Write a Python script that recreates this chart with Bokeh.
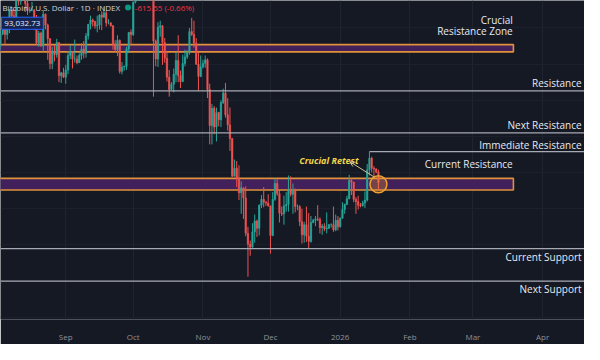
import pandas as pd
from bokeh.plotting import figure
from bokeh.models import (ColumnDataSource, FixedTicker, Range1d, Span, Arrow,
                          OpenHead, Grid, SingleIntervalTicker)
from bokeh.core.properties import value
from bokeh.embed import file_html
from bokeh.resources import INLINE

# ---------------- data (BTC/USD daily, thousands of USD) ----------------
first_day = "2025-08-03"

opens = [112.5,114.2,115.0,114.1,115.0,117.5,116.7,116.5,119.3,118.7,120.2,123.3,118.4,117.4,117.5,117.5,116.3,112.9,114.3,112.5,116.9,115.4,113.5,110.1,111.8,111.3,113.0,108.4,108.8,
         108.2,109.2,111.2,111.7,110.7,110.7,110.2,111.2,112.1,111.5,113.9,115.5,116.1,115.9,115.3,115.4,116.8,116.5,117.1,115.7,115.7,115.3,112.7,112.0,113.3,109.0,109.6,109.7,112.1,114.4,
         114.1,118.6,120.6,122.3,122.4,123.5,124.7,121.4,123.3,121.7,113.2,110.7,115.1,115.3,113.0,110.8,108.2,106.5,107.2,108.6,110.5,108.4,107.6,110.1,111.0,111.6,114.5,114.1,112.9,110.0,108.3,
         109.6,110.1,110.6,106.5,101.5,103.9,101.3,103.3,102.3,104.7,106.0,103.0,101.6,99.7,94.5,95.6,94.2,92.2,92.9,91.5,86.6,85.1,84.7,86.8,88.3,87.3,90.5,91.3,90.9,90.8,
         90.4,86.3,91.3,93.5,92.1,89.4,89.3,90.4,90.6,92.7,92.0,92.5,90.3,90.3,88.2,86.4,87.8,86.2,85.5,88.1,88.4,88.6,88.5,87.4,87.6,87.2,87.3,87.8,87.8,87.1,88.4,
         87.5,88.7,89.9,90.6,91.4,93.9,93.7,91.3,91.0,90.5,90.4,90.8,91.2,95.4,97.0,95.6,95.5,95.1]

highs = [114.7,115.7,115.1,115.7,117.6,117.9,117.6,119.3,122.3,120.3,123.7,124.4,119.2,117.9,118.6,117.6,116.8,114.6,114.5,117.4,117.0,115.6,113.6,112.4,112.6,113.5,113.0,108.9,109.5,
         109.9,111.8,112.6,111.8,113.4,111.2,111.5,112.9,113.2,114.3,115.5,116.7,116.3,116.0,116.7,116.9,117.3,117.9,117.4,116.2,115.8,115.4,113.3,114.0,113.4,110.3,109.8,112.4,114.4,114.8,
         118.6,121.0,123.9,122.9,125.7,126.2,125.1,124.1,123.8,122.5,113.4,115.8,116.0,115.4,113.6,111.8,109.2,107.5,109.4,111.7,114.0,109.1,111.3,112.0,111.9,115.0,116.4,116.0,113.6,111.6,111.2,
         110.6,111.2,110.8,107.3,104.5,104.2,104.0,103.4,105.0,106.6,107.4,105.3,104.0,99.8,96.8,96.6,96.0,93.8,92.9,93.1,87.5,85.6,88.0,89.2,88.5,90.6,91.9,93.0,91.1,92.0,
         90.4,92.3,94.2,94.1,92.7,90.3,91.8,92.3,94.6,94.5,93.5,92.8,90.6,90.5,90.0,88.2,90.3,89.4,89.0,88.6,89.0,90.5,88.8,87.9,88.0,89.5,87.9,88.0,90.3,89.2,89.0,
         88.8,90.9,90.7,91.8,94.7,94.2,93.7,91.6,91.8,90.8,91.1,92.4,96.2,97.9,97.2,95.9,95.6,95.4]

lows = [112.0,114.0,112.7,113.4,114.3,115.9,116.3,116.5,118.1,118.2,118.9,117.2,116.8,117.1,117.3,114.7,112.7,112.4,112.4,111.7,114.8,110.6,109.3,109.3,110.4,110.9,107.5,107.4,108.1,
        107.3,108.6,110.7,109.4,110.2,110.0,110.2,110.6,110.8,110.9,113.4,114.8,115.2,114.9,114.4,114.8,114.7,116.4,115.2,115.5,115.2,112.0,111.6,111.1,108.7,108.6,109.1,109.2,111.6,112.7,
        113.9,118.4,119.3,121.6,122.1,123.1,120.6,121.1,119.8,105.5,109.7,109.6,113.8,109.9,110.2,107.6,105.5,106.4,106.1,107.5,107.5,106.7,107.5,109.7,110.7,111.3,113.9,112.3,109.9,106.3,108.2,
        109.4,109.5,105.3,98.9,98.9,100.3,99.3,101.4,101.3,104.5,102.6,100.8,98.0,94.4,94.5,93.0,91.2,89.3,88.6,86.2,80.6,83.5,84.6,85.3,86.1,86.3,90.1,90.2,90.4,90.3,
        83.8,86.2,91.1,91.8,88.1,89.0,87.8,89.6,89.6,91.7,89.3,89.5,89.8,87.6,85.2,85.3,85.4,84.5,85.3,88.0,87.6,88.3,86.6,86.4,86.9,86.6,87.2,87.4,86.8,86.9,87.0,
        87.4,88.6,89.3,90.5,91.3,91.9,90.9,89.3,89.9,90.2,90.3,90.1,91.0,94.6,95.0,94.3,94.9,92.5]

closes = [114.2,115.0,114.1,115.0,117.5,116.7,116.5,119.3,118.7,120.2,123.3,118.4,117.4,117.5,117.5,116.3,112.9,114.3,112.5,116.9,115.4,113.5,110.1,111.8,111.3,113.0,108.4,108.8,108.2,
          109.2,111.2,111.7,110.7,110.7,110.2,111.2,112.1,111.5,113.9,115.5,116.1,115.9,115.3,115.4,116.8,116.5,117.1,115.7,115.7,115.3,112.7,112.0,113.3,109.0,109.6,109.7,112.1,114.4,114.1,
          118.6,120.6,122.3,122.4,123.5,124.7,121.4,123.3,121.7,113.2,110.7,115.1,115.3,113.0,110.8,108.2,106.5,107.2,108.6,110.5,108.4,107.6,110.1,111.0,111.6,114.5,114.1,112.9,110.0,108.3,109.6,
          110.1,110.6,106.5,101.5,103.9,101.3,103.3,102.3,104.7,106.0,103.0,101.6,99.7,94.5,95.6,94.2,92.2,92.9,91.5,86.6,85.1,84.7,86.8,88.3,87.3,90.5,91.3,90.9,90.8,90.4,
          86.3,91.3,93.5,92.1,89.4,89.3,90.4,90.6,92.7,92.0,92.5,90.3,90.3,88.2,86.4,87.8,86.2,85.5,88.1,88.4,88.6,88.5,87.4,87.6,87.2,87.3,87.8,87.8,87.1,88.4,87.5,
          88.7,89.9,90.6,91.4,93.9,93.7,91.3,91.0,90.5,90.4,90.8,91.2,95.4,97.0,95.6,95.5,95.1,93.6]

# key levels (thousands of USD)
crucial_zone = [111.7, 112.7]
current_zone = [92.6, 94.2]
resistance = 106.3
next_resistance = 100.5
immediate_resistance = 97.9
current_support = 84.5
next_support = 80.0
zone_end = "2026-03-19"
immediate_start = "2026-01-14"
retest_day = "2026-01-18"

month_ticks = ["2025-08-01", "2025-09-01", "2025-10-01", "2025-11-01", "2025-12-01",
               "2026-01-01", "2026-02-01", "2026-03-01", "2026-04-01", "2026-05-01"]
month_labels = ["Aug", "Sep", "Oct", "Nov", "Dec", "2026", "Feb", "Mar", "Apr", "May"]

header_name = "Bitcoin / U.S. Dollar · 1D · INDEX"
header_change = "-615.55 (-0.66%)"
header_price = "93,032.73"

# ---------------- helpers ----------------
DAY = 86400000
def ms(s):
    return int(pd.Timestamp(s).value // 10**6)

n = min(len(opens), len(highs), len(lows), len(closes))
dates = pd.date_range(first_day, periods=n, freq="D")
up_col, dn_col = "#26a69a", "#ef5350"
colors = [up_col if closes[i] >= opens[i] else dn_col for i in range(n)]
src = ColumnDataSource(dict(
    x=dates, o=opens[:n], h=highs[:n], l=lows[:n], c=closes[:n],
    top=[max(opens[i], closes[i]) for i in range(n)],
    bot=[min(opens[i], closes[i]) for i in range(n)],
    col=colors))

sep1 = ms("2025-09-01")
xs = sep1 - 29.0 * DAY
xe = sep1 + 230.6 * DAY
ytop = 118.8
per_px = 0.1285
ybot = ytop - per_px * 343.3

def X(px):  # reference-pixel -> data x
    return xs + px / 600.0 * (xe - xs)

def Y(py):  # reference-pixel -> data y
    return ytop - py * per_px

BG = "#151924"
p = figure(width=584, height=344, x_axis_type="datetime", y_axis_location=None,
           output_backend="svg", toolbar_location=None,
           x_range=Range1d(xs, xe), y_range=Range1d(ybot, ytop),
           background_fill_color=BG, border_fill_color=BG,
           min_border_left=0, min_border_right=0, min_border_top=0, min_border_bottom=0,
           outline_line_color=None)

tick_ms = [ms(t) for t in month_ticks]
p.xaxis.ticker = FixedTicker(ticks=tick_ms)
p.xaxis.major_label_overrides = {t: lab for t, lab in zip(tick_ms, month_labels)}
p.xaxis.axis_line_color = None
p.xaxis.major_tick_line_color = None
p.xaxis.minor_tick_line_color = None
p.xaxis.major_label_text_color = "#8e919a"
p.xaxis.major_label_text_font = "Open Sans"
p.xaxis.major_label_text_font_size = "8px"
p.xaxis.major_label_standoff = 5
p.xgrid.ticker = FixedTicker(ticks=tick_ms)
p.xgrid.grid_line_color = "#1f2431"
p.add_layout(Grid(dimension=1, ticker=SingleIntervalTicker(interval=5),
                  grid_line_color="#1c202c"))

FONT = value("Open Sans")
ZONE_FILL, ZONE_LINE = "#45215f", "#e0913a"

# zones
for z in (crucial_zone, current_zone):
    p.quad(left=[xs - 20 * DAY], right=[ms(zone_end)], bottom=[z[0]], top=[z[1]],
           fill_color=ZONE_FILL, fill_alpha=0.95, line_color=ZONE_LINE, line_width=1.6)

# level lines
LINE = "#a7aab3"
for lv in (resistance, next_resistance, current_support, next_support):
    p.add_layout(Span(location=lv, dimension="width", line_color=LINE, line_width=1.2))
p.segment(x0=[ms(immediate_start)], y0=[immediate_resistance], x1=[xe + 10 * DAY],
          y1=[immediate_resistance], line_color=LINE, line_width=1.2)

# candles
p.segment(x0="x", y0="l", x1="x", y1="h", line_color="col", line_width=1, source=src)
p.vbar(x="x", width=0.62 * DAY, top="top", bottom="bot", fill_color="col",
       line_color="col", line_width=0.6, source=src)

# retest circle + arrow + label
p.scatter(x=[ms(retest_day)], y=[sum(current_zone) / 2], size=17, marker="circle",
          fill_color="#f5a623", fill_alpha=0.28, line_color="#f0a030", line_width=1.5)
p.add_layout(Arrow(end=OpenHead(size=5, line_color="#cfc08e", line_width=1),
                   x_start=X(384), y_start=Y(190), x_end=X(359), y_end=Y(173.5),
                   line_color="#cfc08e", line_width=1))
p.text(x=[X(307)], y=[Y(172.5)], text=["Crucial Retest"], text_font=FONT,
       text_font_size="9px", text_font_style="bold italic", text_color="#f2d548",
       text_align="left", text_baseline="middle")

# zone labels (right aligned at zone end)
TXT = "#e8eaf0"
p.text(x=[ms(zone_end) - 0.3 * DAY] * 3,
       y=[crucial_zone[1], crucial_zone[1], current_zone[1]],
       y_offset=[-18, -7, -7],
       text=["Crucial", "Resistance Zone", "Current Resistance"],
       text_font=FONT, text_font_size="10px", text_color=TXT,
       text_align="right", text_baseline="bottom")

# level labels, right aligned near the right edge
lvl_y = [resistance, next_resistance, immediate_resistance, current_support, next_support]
lvl_off = [-8, -8, -7, 8, 8]
lvl_txt = ["Resistance", "Next Resistance", "Immediate Resistance", "Current Support", "Next Support"]
p.text(x=[X(597)] * len(lvl_y), y=lvl_y, y_offset=lvl_off, text=lvl_txt, text_font=FONT,
       text_font_size="10px", text_color=TXT, text_align="right", text_baseline="middle")

# header (TradingView legend)
p.quad(left=[X(1)], right=[X(44)], top=[Y(18)], bottom=[Y(31)],
       fill_color="#152550", line_color="#2962ff", line_width=1)
p.text(x=[X(41)], y=[Y(24.5)], text=[header_price], text_font=FONT, text_font_size="8px",
       text_color="#e6ecff", text_align="right", text_baseline="middle")
p.text(x=[X(2)], y=[Y(7.5)], text=[header_name], text_font=FONT, text_font_size="8px",
       text_color="#d1d4dc", text_align="left", text_baseline="middle")
p.scatter(x=[X(131)], y=[Y(7.5)], size=6, marker="circle", fill_color="#089981",
          line_color=None)
p.text(x=[X(138)], y=[Y(7.5)], text=[header_change], text_font=FONT, text_font_size="8px",
       text_color="#f23645", text_align="left", text_baseline="middle")

open("out.html", "w").write(file_html(p, INLINE))
